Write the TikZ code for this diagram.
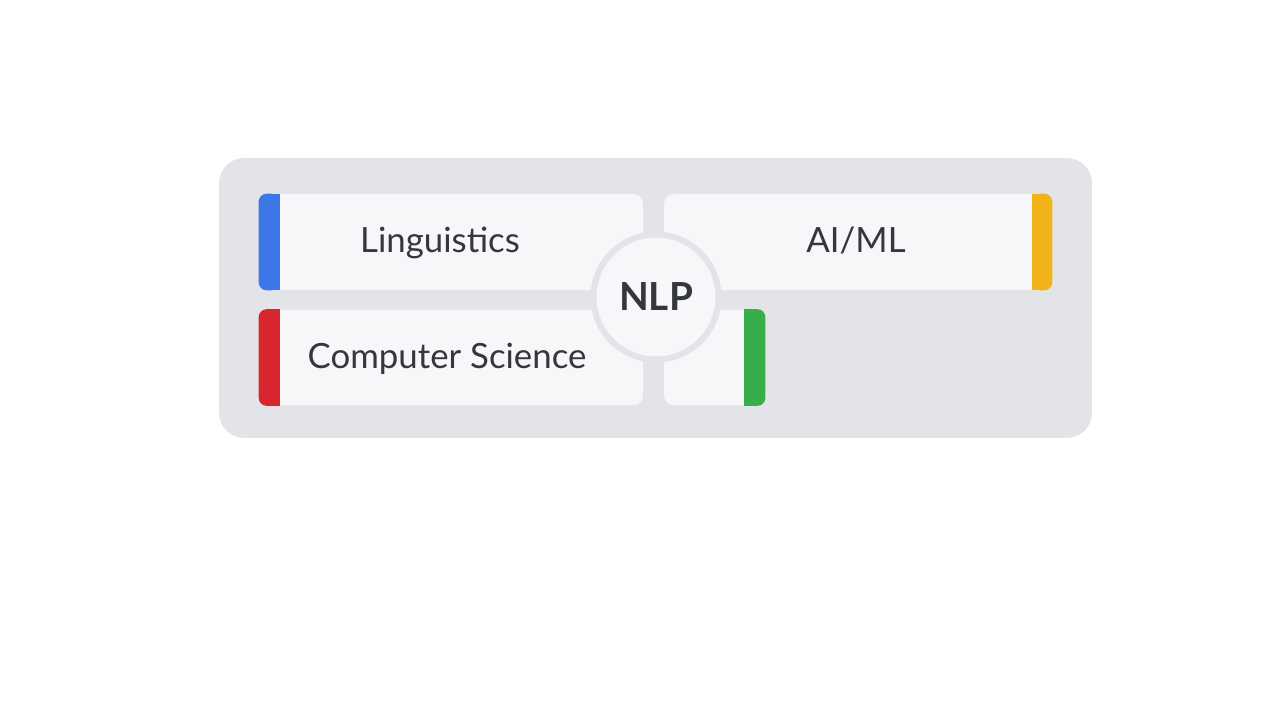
\documentclass[tikz,border=0pt]{standalone}
\usepackage{fontspec}
\setmainfont{Lato}
\definecolor{panelgray}{HTML}{E3E4E8}
\definecolor{cardgray}{HTML}{F7F7F9}
\definecolor{textgray}{HTML}{34373B}
\definecolor{gblue}{HTML}{3E78E8}
\definecolor{gred}{HTML}{D9252E}
\definecolor{gyellow}{HTML}{F0B41A}
\definecolor{ggreen}{HTML}{36AE4A}

\begin{document}
\begin{tikzpicture}[x=0.02cm, y=-0.02cm,
    card/.style={rectangle, rounded corners=0.2cm, fill=cardgray, inner sep=0pt, minimum height=1.92cm},
    label/.style={text=textgray, font=\fontsize{19.8}{22}\selectfont, inner sep=0pt, anchor=base}]
    % 背景
    \useasboundingbox[fill=white] (0, 0) rectangle (1280, 720);
    \node[rectangle, rounded corners=0.5cm, fill=panelgray, minimum width=17.46cm, minimum height=5.6cm] (panel) at (655.5, 298) {};

    % カード
    \node[card, minimum width=7.68cm] (ling) at (451, 242) {};
    \node[card, minimum width=7.68cm] (cs) at (451, 357.5) {};
    \node[card, minimum width=7.76cm] (ai) at (858, 242) {};
    \node[card, minimum width=2.02cm] (other) at (714.5, 357.5) {};

    % 色のバー
    \fill[gblue, rounded corners=0.16cm] (ling.south west) rectangle ([xshift=0.42cm]ling.north west);
    \fill[gblue] ([xshift=0.2cm]ling.south west) rectangle ([xshift=0.42cm]ling.north west);
    \fill[gred, rounded corners=0.16cm] (cs.south west) rectangle ([xshift=0.42cm]cs.north west);
    \fill[gred] ([xshift=0.2cm]cs.south west) rectangle ([xshift=0.42cm]cs.north west);
    \fill[gyellow, rounded corners=0.16cm] (ai.south east) rectangle ([xshift=-0.4cm]ai.north east);
    \fill[gyellow] ([xshift=-0.2cm]ai.south east) rectangle ([xshift=-0.4cm]ai.north east);
    \fill[ggreen, rounded corners=0.16cm] (other.south east) rectangle ([xshift=-0.42cm]other.north east);
    \fill[ggreen] ([xshift=-0.2cm]other.south east) rectangle ([xshift=-0.42cm]other.north east);

    % ラベル
    \node[label] (lingtext) at (440, 252) {Linguistics};
    \node[label] (cstext) at (447, 368) {Computer Science};
    \node[label] (aitext) at (856, 252) {AI/ML};

    % 中央の円
    \node[circle, fill=cardgray, draw=panelgray, line width=0.12cm, minimum size=2.5cm, inner sep=0pt, text=textgray, font=\fontsize{22}{24}\selectfont\bfseries] (nlp) at (656, 297) {NLP};
  \end{tikzpicture}
\end{document}
